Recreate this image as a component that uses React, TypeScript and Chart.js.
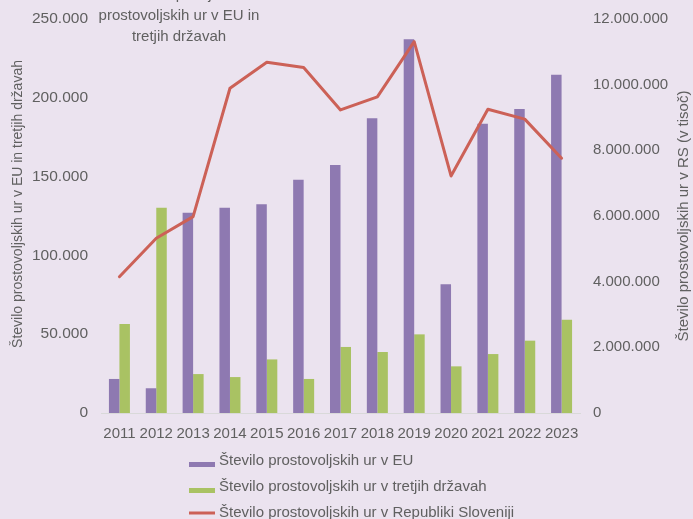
import React, { useEffect, useRef } from 'react';
import { Chart, registerables } from 'chart.js';

Chart.register(...registerables);

const years = ['2011', '2012', '2013', '2014', '2015', '2016', '2017', '2018', '2019', '2020', '2021', '2022', '2023'];
const euHours = [21600, 15700, 127100, 130300, 132400, 148000, 157400, 187000, 237100, 81700, 183600, 192900, 214700];
const thirdCountryHours = [56500, 130300, 24700, 22800, 34000, 21600, 41900, 38700, 49900, 29600, 37400, 45900, 59200];
const sloveniaHours = [4150000, 5320000, 5980000, 9890000, 10680000, 10520000, 9230000, 9630000, 11310000, 7220000, 9250000, 8950000, 7760000];

const leftAxisMax = 250000;
const leftAxisStep = 50000;
const rightAxisMax = 12000000;
const rightAxisStep = 2000000;

const titleLines = ['Število opravljenih', 'prostovoljskih ur v EU in', 'tretjih državah'];
const leftAxisTitle = 'Število prostovoljskih ur v EU in tretjih državah';
const rightAxisTitle = 'Število prostovoljskih ur v RS (v tisoč)';
const seriesLabels = [
  'Število prostovoljskih ur v EU',
  'Število prostovoljskih ur v tretjih državah',
  'Število prostovoljskih ur v Republiki Sloveniji',
];

const PURPLE = '#8e79b1';
const GREEN = '#a9c263';
const RED = '#cc6157';
const BG = '#ebe3ef';
const TEXT = '#606060';
const FONT = '"Liberation Sans", Arial, sans-serif';

const fmt = (v: number) => Math.round(v).toString().replace(/\B(?=(\d{3})+(?!\d))/g, '.');

const overlayPlugin = {
  id: 'overlay',
  beforeDraw(chart: any) {
    const { ctx, width, height } = chart;
    ctx.save();
    ctx.fillStyle = BG;
    ctx.fillRect(0, 0, width, height);
    ctx.restore();
  },
  afterDraw(chart: any) {
    const { ctx } = chart;
    ctx.save();
    ctx.fillStyle = TEXT;
    // title
    ctx.font = `15px ${FONT}`;
    ctx.textAlign = 'center';
    ctx.textBaseline = 'middle';
    titleLines.forEach((line, i) => {
      ctx.fillText(line, 179, -5 + i * 21);
    });
    // axis titles
    ctx.save();
    ctx.translate(18, 204);
    ctx.rotate(-Math.PI / 2);
    ctx.font = `14px ${FONT}`;
    ctx.fillText(leftAxisTitle, 0, 0);
    ctx.restore();
    ctx.save();
    ctx.translate(684, 216);
    ctx.rotate(-Math.PI / 2);
    ctx.font = `15px ${FONT}`;
    ctx.fillText(rightAxisTitle, 0, 0);
    ctx.restore();
    // legend
    ctx.font = `15px ${FONT}`;
    ctx.textAlign = 'left';
    const colors = [PURPLE, GREEN, RED];
    seriesLabels.forEach((label, i) => {
      const cy = 461 + i * 26;
      if (i < 2) {
        ctx.fillStyle = colors[i];
        ctx.fillRect(189, cy + 1, 26, 5);
      } else {
        ctx.strokeStyle = colors[i];
        ctx.lineWidth = 3;
        ctx.beginPath();
        ctx.moveTo(189, cy);
        ctx.lineTo(215, cy);
        ctx.stroke();
      }
      ctx.fillStyle = TEXT;
      ctx.fillText(label, 219, cy);
    });
    ctx.restore();
  },
};

export default function App() {
  const canvasRef = useRef<HTMLCanvasElement | null>(null);

  useEffect(() => {
    if (!canvasRef.current) return;
    const chart = new Chart(canvasRef.current, {
      type: 'bar',
      data: {
        labels: years,
        datasets: [
          {
            type: 'bar',
            label: seriesLabels[0],
            data: euHours,
            backgroundColor: PURPLE,
            yAxisID: 'y',
            order: 1,
            categoryPercentage: 0.57,
            barPercentage: 1,
          },
          {
            type: 'bar',
            label: seriesLabels[1],
            data: thirdCountryHours,
            backgroundColor: GREEN,
            yAxisID: 'y',
            order: 1,
            categoryPercentage: 0.57,
            barPercentage: 1,
          },
          {
            type: 'line',
            label: seriesLabels[2],
            data: sloveniaHours,
            borderColor: RED,
            backgroundColor: RED,
            borderWidth: 3,
            pointRadius: 0,
            tension: 0,
            borderJoinStyle: 'round',
            borderCapStyle: 'round',
            yAxisID: 'y1',
            order: 0,
          },
        ] as any,
      },
      options: {
        animation: false,
        responsive: false,
        devicePixelRatio: 1,
        layout: { padding: { top: 19, bottom: 0, left: 0, right: 0 } },
        plugins: {
          legend: { display: false },
          title: { display: false },
          tooltip: { enabled: false },
        },
        scales: {
          x: {
            grid: { display: false },
            border: { display: true, color: '#d9d9d9', width: 1 },
            ticks: { color: TEXT, font: { size: 15, family: FONT }, padding: 4, maxRotation: 0, autoSkip: false },
            afterFit: (s: any) => { s.height = 106; },
          },
          y: {
            position: 'left',
            min: 0,
            max: leftAxisMax,
            grid: { display: false },
            border: { display: false },
            ticks: {
              stepSize: leftAxisStep,
              color: TEXT,
              font: { size: 15.5, family: FONT },
              padding: 5,
              callback: (v: any) => fmt(Number(v)),
            },
            afterFit: (s: any) => { s.width = 101; },
          },
          y1: {
            position: 'right',
            min: 0,
            max: rightAxisMax,
            grid: { display: false },
            border: { display: false },
            ticks: {
              stepSize: rightAxisStep,
              color: TEXT,
              font: { size: 15, family: FONT },
              padding: 5,
              callback: (v: any) => fmt(Number(v)),
            },
            afterFit: (s: any) => { s.width = 113; },
          },
        },
      } as any,
      plugins: [overlayPlugin],
    });
    return () => chart.destroy();
  }, []);

  return (
    <div style={{ position: 'fixed', left: 0, top: 0, width: 693, height: 519, background: BG }}>
      <canvas ref={canvasRef} width={693} height={519} style={{ display: 'block', width: 693, height: 519 }} />
    </div>
  );
}
